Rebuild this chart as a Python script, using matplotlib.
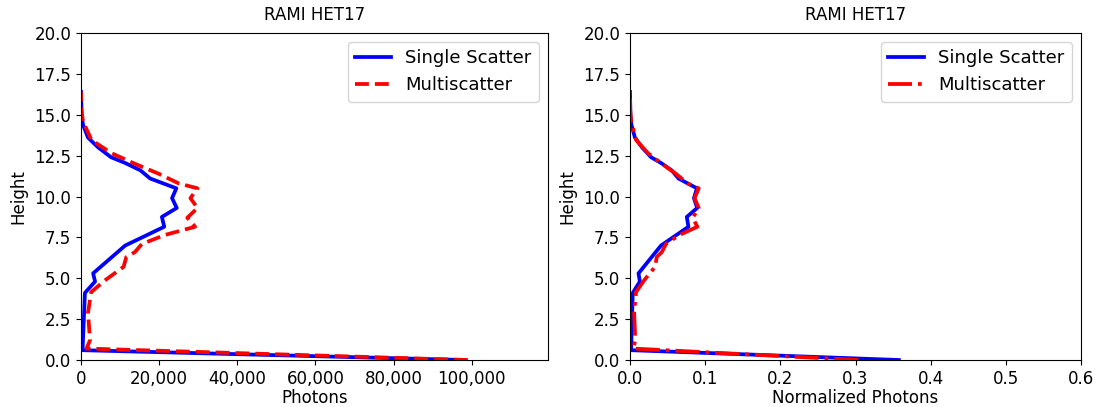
"""Vertical photon profiles for the RAMI HET17 scene: raw counts and normalized counts."""
import matplotlib
matplotlib.use("Agg")
import matplotlib.pyplot as plt
import numpy as np
from matplotlib.ticker import StrMethodFormatter, MultipleLocator

# single scatter profile (height, photons)
single_height = [0.0, 0.6, 4.1, 4.8, 5.3, 7.0, 8.15, 8.75, 9.3, 9.9, 10.5,
                 11.1, 11.6, 12.05, 12.4, 13.0, 13.6, 14.4, 15.0, 16.4]
single_photons = [98000, 400, 1000, 3600, 3100, 11300, 21300, 20700, 24500, 23300, 24400,
                  17700, 15200, 11300, 7700, 4400, 1800, 500, 150, 0]

# multiscatter profile (height, photons)
multi_height = [0.0, 0.7, 1.2, 2.9, 4.15, 4.85, 5.7, 6.3, 6.6, 7.1, 7.65, 8.15, 8.7,
                9.3, 9.9, 10.5, 10.8, 11.4, 12.0, 12.65, 13.45, 14.6, 15.3, 16.4]
multi_photons = [99000, 1400, 2300, 1800, 2600, 6000, 10900, 11600, 13800, 15600, 21500,
                 29200, 27200, 29800, 28000, 29800, 25000, 19800, 13800, 7800, 2700, 500, 100, 0]

# total photon counts used to normalize each profile
single_total = 274000
multi_total = 326000

title = "RAMI HET17"

single_norm = np.array(single_photons) / single_total
multi_norm = np.array(multi_photons) / multi_total

W, H = 1097, 407
fig = plt.figure(figsize=(W / 100, H / 100), dpi=100)
ax1 = fig.add_axes([81 / W, 47 / H, 467 / W, 327 / H])
ax2 = fig.add_axes([630 / W, 47 / H, 451 / W, 327 / H])

lw = 2.7
ax1.plot(single_photons, single_height, color="b", lw=lw, label="Single Scatter")
ax1.plot(multi_photons, multi_height, color="r", lw=lw, ls="--", label="Multiscatter")
ax1.set_xlim(0, 119500)
ax1.xaxis.set_major_locator(MultipleLocator(20000))
ax1.xaxis.set_major_formatter(StrMethodFormatter("{x:,.0f}"))
ax1.set_xlabel("Photons", fontsize=12, labelpad=1)

ax2.plot(single_norm, single_height, color="b", lw=lw, label="Single Scatter")
ax2.plot(multi_norm, multi_height, color="r", lw=lw, ls="-.", label="Multiscatter")
ax2.set_xlim(0, 0.6)
ax2.xaxis.set_major_locator(MultipleLocator(0.1))
ax2.set_xlabel("Normalized Photons", fontsize=12, labelpad=1)

for ax in (ax1, ax2):
    ax.set_ylim(0, 20)
    ax.yaxis.set_major_locator(MultipleLocator(2.5))
    ax.yaxis.set_major_formatter(StrMethodFormatter("{x:.1f}"))
    ax.tick_params(labelsize=12)
    ax.set_ylabel("Height", fontsize=12, labelpad=5)
    ax.set_title(title, fontsize=12, pad=9)
    ax.legend(loc="upper right", fontsize=13)

fig.savefig("out.png", dpi=100, facecolor="white")
plt.close(fig)
